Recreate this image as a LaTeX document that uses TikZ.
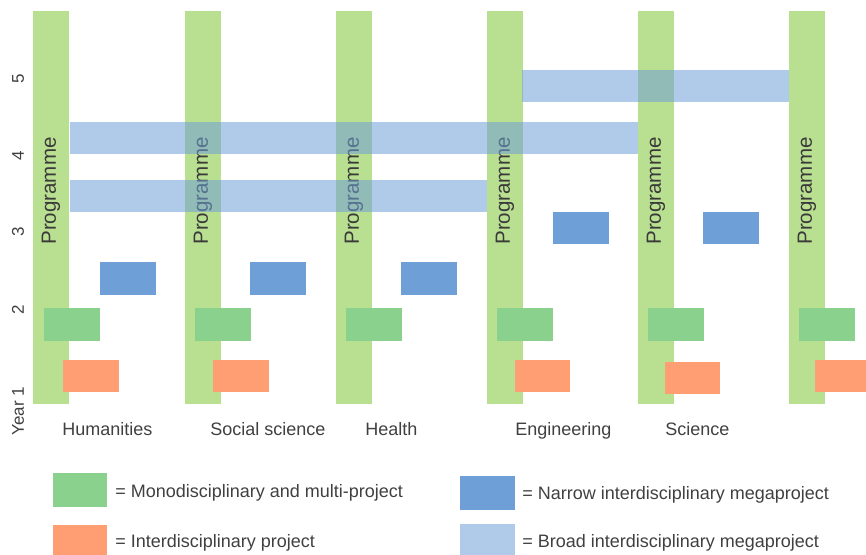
\documentclass[tikz,border=0pt]{standalone}
\usepackage{fontspec}
\setmainfont{Liberation Sans}
\definecolor{progGreen}{HTML}{B9DF91}
\definecolor{monoGreen}{HTML}{89D18D}
\definecolor{interOrange}{HTML}{FF9E73}
\definecolor{narrowBlue}{HTML}{6E9FD6}
\definecolor{broadBlue}{HTML}{6F9FD8}
\definecolor{txtGrey}{HTML}{404040}
\begin{document}
\begin{tikzpicture}[x=0.75pt,y=-0.75pt,
  progbar/.style={fill=progGreen},
  monobox/.style={fill=monoGreen},
  interbox/.style={fill=interOrange},
  narrowbox/.style={fill=narrowBlue},
  broadbar/.style={fill=broadBlue,fill opacity=0.55},
  progtext/.style={rotate=90,inner sep=0pt,text=txtGrey!90!black,font=\fontsize{15.4}{18}\selectfont},
  axislabel/.style={rotate=90,inner sep=0pt,text=txtGrey,font=\fontsize{12.75}{15}\selectfont},
  collabel/.style={anchor=base west,inner sep=0pt,text=txtGrey,font=\fontsize{13.5}{16}\selectfont},
  legendtext/.style={anchor=base west,inner sep=0pt,text=txtGrey,font=\fontsize{13.5}{16}\selectfont}]
\useasboundingbox (0,0) rectangle (866,555);
% programme bars
\foreach \x in {33,185,336,487,638,789}{
  \fill[progbar] (\x,11) rectangle ++(36,393);
}
% programme texts
\node[progtext] (p1) at (51,191) {Programme};
\node[progtext] (p2) at (203,191) {Programme};
\node[progtext] (p3) at (354,191) {Programme};
\node[progtext] (p4) at (505,191) {Programme};
\node[progtext] (p5) at (656,191) {Programme};
\node[progtext] (p6) at (807,191) {Programme};
% broad interdisciplinary megaprojects
\fill[broadbar] (522,70) rectangle (789,102);
\fill[broadbar] (70,122) rectangle (638,154);
\fill[broadbar] (70,180) rectangle (487,212);
% narrow interdisciplinary megaprojects
\fill[narrowbox] (100,262) rectangle (156,295);
\fill[narrowbox] (250,262) rectangle (306,295);
\fill[narrowbox] (401,262) rectangle (457,295);
\fill[narrowbox] (553,212) rectangle (609,244);
\fill[narrowbox] (703,212) rectangle (759,244);
% monodisciplinary
\foreach \x in {44,195,346,497,648,799}{
  \fill[monobox] (\x,308) rectangle ++(56,33);
}
% interdisciplinary projects
\fill[interbox] (63,360) rectangle (119,392);
\fill[interbox] (213,360) rectangle (269,392);
\fill[interbox] (515,360) rectangle (570,392);
\fill[interbox] (665,362) rectangle (720,394);
\fill[interbox] (815,360) rectangle (866,392);
% year axis
\node[axislabel] (y5) at (18,79) {5};
\node[axislabel] (y4) at (18,156) {4};
\node[axislabel] (y3) at (18,232) {3};
\node[axislabel] (y2) at (18,310) {2};
\node[axislabel] (y1) at (18,411) {Year 1};
% column labels
\node[collabel] (hum) at (62,435) {Humanities};
\node[collabel] (soc) at (210,435) {Social science};
\node[collabel] (hea) at (365,435) {Health};
\node[collabel] (eng) at (515,435) {Engineering};
\node[collabel] (sci) at (665,435) {Science};
% legend
\fill[monobox] (53,473) rectangle (107,507);
\node[legendtext] (lmono) at (115,497) {= Monodisciplinary and multi-project};
\fill[interbox] (53,525) rectangle (107,555);
\node[legendtext] (linter) at (115,547) {= Interdisciplinary project};
\fill[narrowbox] (460,476) rectangle (515,510);
\node[legendtext] (lnarrow) at (522,499) {= Narrow interdisciplinary megaproject};
\fill[broadbar] (460,524) rectangle (515,555);
\node[legendtext] (lbroad) at (522,547) {= Broad interdisciplinary megaproject};
\end{tikzpicture}
\end{document}
